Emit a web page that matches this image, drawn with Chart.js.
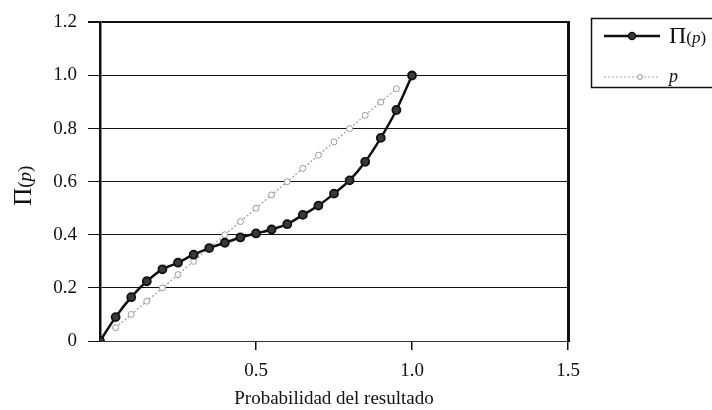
<!DOCTYPE html>
<html>
<head>
<meta charset="utf-8">
<title>Π(p)</title>
<script src="https://cdn.jsdelivr.net/npm/chart.js@4/dist/chart.umd.min.js"></script>
<style>
  html, body { margin: 0; padding: 0; background: #ffffff; }
  #wrap { width: 712px; height: 410px; overflow: hidden; }
</style>
</head>
<body>
<div id="wrap"><canvas id="c" width="712" height="410"></canvas></div>
<script>
// Outcome probability values
const probX = [0, 0.05, 0.10, 0.15, 0.20, 0.25, 0.30, 0.35, 0.40, 0.45, 0.50,
               0.55, 0.60, 0.65, 0.70, 0.75, 0.80, 0.85, 0.90, 0.95, 1.00];
// Decision weight Π(p)
const piValues = [0, 0.09, 0.165, 0.225, 0.27, 0.295, 0.325, 0.35, 0.37, 0.39, 0.405,
                  0.42, 0.44, 0.475, 0.51, 0.555, 0.605, 0.675, 0.765, 0.87, 1.00];
// Reference line p
const refX = [0.05, 0.10, 0.15, 0.20, 0.25, 0.30, 0.35, 0.40, 0.45, 0.50,
              0.55, 0.60, 0.65, 0.70, 0.75, 0.80, 0.85, 0.90, 0.95];
const refValues = [0.05, 0.10, 0.15, 0.20, 0.25, 0.30, 0.35, 0.40, 0.45, 0.50,
                   0.55, 0.60, 0.65, 0.70, 0.75, 0.80, 0.85, 0.90, 0.95];
// Tick labels
const yTickLabels = ['0', '0.2', '0.4', '0.6', '0.8', '1.0', '1.2'];
const xTickLabels = ['', '0.5', '1.0', '1.5'];

const SERIF = '"Liberation Serif", "DejaVu Serif", serif';

const piPoints = probX.map((x, i) => ({ x: x, y: piValues[i] }));
const refPoints = refX.map((x, i) => ({ x: x, y: refValues[i] }));

// Writes "Π(p)" with a large Π and a smaller italic p in parentheses
function drawPiLabel(ctx, x, y, big, small) {
  const parts = [
    { t: 'Π', f: big + 'px ' + SERIF },
    { t: '(', f: small + 'px ' + SERIF },
    { t: 'p', f: 'italic ' + small + 'px ' + SERIF },
    { t: ')', f: small + 'px ' + SERIF }
  ];
  let cx = x;
  parts.forEach(p => { ctx.font = p.f; ctx.fillText(p.t, cx, y); cx += ctx.measureText(p.t).width; });
  return cx - x;
}
function piLabelWidth(ctx, big, small) {
  let w = 0;
  ctx.font = big + 'px ' + SERIF; w += ctx.measureText('Π').width;
  ctx.font = small + 'px ' + SERIF; w += ctx.measureText('()').width;
  ctx.font = 'italic ' + small + 'px ' + SERIF; w += ctx.measureText('p').width;
  return w;
}

// Rotated y-axis title
const yTitlePlugin = {
  id: 'yTitle',
  afterDraw(chart) {
    const ctx = chart.ctx;
    const area = chart.chartArea;
    ctx.save();
    const total = piLabelWidth(ctx, 25, 19);
    ctx.translate(31, (area.top + area.bottom) / 2 + 4);
    ctx.rotate(-Math.PI / 2);
    ctx.fillStyle = '#111';
    ctx.textBaseline = 'alphabetic';
    ctx.textAlign = 'left';
    drawPiLabel(ctx, -total / 2, 0, 25, 19);
    ctx.restore();
  }
};

// Boxed legend to the right of the plot
const legendBoxPlugin = {
  id: 'legendBox',
  afterDraw(chart) {
    const ctx = chart.ctx;
    const ds = chart.data.datasets;
    ctx.save();
    ctx.strokeStyle = '#111';
    ctx.lineWidth = 1.5;
    ctx.strokeRect(591.5, 18.5, 140, 69);

    // first entry
    ctx.strokeStyle = ds[0].borderColor;
    ctx.lineWidth = ds[0].borderWidth;
    ctx.beginPath(); ctx.moveTo(604, 36); ctx.lineTo(660, 36); ctx.stroke();
    ctx.beginPath(); ctx.arc(632, 36, 3.5, 0, Math.PI * 2);
    ctx.fillStyle = ds[0].pointBackgroundColor; ctx.fill();
    ctx.lineWidth = 1.5; ctx.strokeStyle = ds[0].pointBorderColor; ctx.stroke();

    ctx.fillStyle = '#111';
    ctx.textBaseline = 'alphabetic';
    drawPiLabel(ctx, 669, 43, 24, 17);

    // second entry
    ctx.strokeStyle = ds[1].borderColor;
    ctx.lineWidth = 1;
    ctx.setLineDash([2, 2]);
    ctx.beginPath(); ctx.moveTo(604, 77); ctx.lineTo(660, 77); ctx.stroke();
    ctx.setLineDash([]);
    ctx.beginPath(); ctx.arc(640, 77, 2.5, 0, Math.PI * 2);
    ctx.fillStyle = '#ffffff'; ctx.fill();
    ctx.strokeStyle = ds[1].pointBorderColor; ctx.stroke();

    ctx.fillStyle = '#111';
    ctx.font = 'italic 18px ' + SERIF;
    ctx.fillText('p', 669, 82);
    ctx.restore();
  }
};

new Chart(document.getElementById('c'), {
  type: 'line',
  data: {
    datasets: [
      {
        label: 'Π(p)',
        data: piPoints,
        borderColor: '#111111',
        borderWidth: 2.5,
        tension: 0.25,
        pointRadius: 4,
        pointBackgroundColor: '#3a3a3a',
        pointBorderColor: '#111111',
        pointBorderWidth: 1.8,
        order: 1
      },
      {
        label: 'p',
        data: refPoints,
        borderColor: '#a8a8a8',
        borderWidth: 1.4,
        borderDash: [2, 2],
        tension: 0,
        pointRadius: 3,
        pointBackgroundColor: '#ffffff',
        pointBorderColor: '#9a9a9a',
        pointBorderWidth: 1,
        order: 2
      }
    ]
  },
  options: {
    responsive: false,
    animation: false,
    layout: { padding: { left: 0, right: 144, top: 17, bottom: 0 } },
    plugins: {
      legend: { display: false },
      tooltip: { enabled: false }
    },
    scales: {
      x: {
        type: 'linear',
        min: 0,
        max: 1.5,
        afterFit(scale) { scale.height = 69; },
        ticks: {
          stepSize: 0.5,
          padding: 10,
          color: '#111',
          font: { family: SERIF, size: 19 },
          callback: (v, i) => xTickLabels[i]
        },
        grid: {
          drawOnChartArea: false,
          drawTicks: true,
          tickLength: 9,
          lineWidth: 1.5,
          color: ctx => (ctx.tick && ctx.tick.value === 0) ? 'rgba(0,0,0,0)' : '#111'
        },
        border: { display: true, color: '#333', width: 1 },
        title: {
          display: true,
          text: 'Probabilidad del resultado',
          color: '#111',
          font: { family: SERIF, size: 19 },
          padding: { top: 2, bottom: 0 }
        }
      },
      y: {
        min: 0,
        max: 1.2,
        afterFit(scale) { scale.width = 100; },
        ticks: {
          stepSize: 0.2,
          padding: 11,
          color: '#111',
          font: { family: SERIF, size: 19 },
          callback: (v, i) => yTickLabels[i]
        },
        grid: {
          color: '#111',
          lineWidth: ctx => (ctx.tick && ctx.tick.value >= 1.19) ? 2 : 1,
          tickLength: 12
        },
        border: { display: true, color: '#111', width: 2.5 }
      },
      y2: {
        position: 'right',
        min: 0,
        max: 1.2,
        afterFit(scale) { scale.width = 0; },
        ticks: { display: false },
        grid: { display: false, drawTicks: false },
        border: { display: true, color: '#111', width: 3 }
      }
    }
  },
  plugins: [yTitlePlugin, legendBoxPlugin]
});
</script>
</body>
</html>
